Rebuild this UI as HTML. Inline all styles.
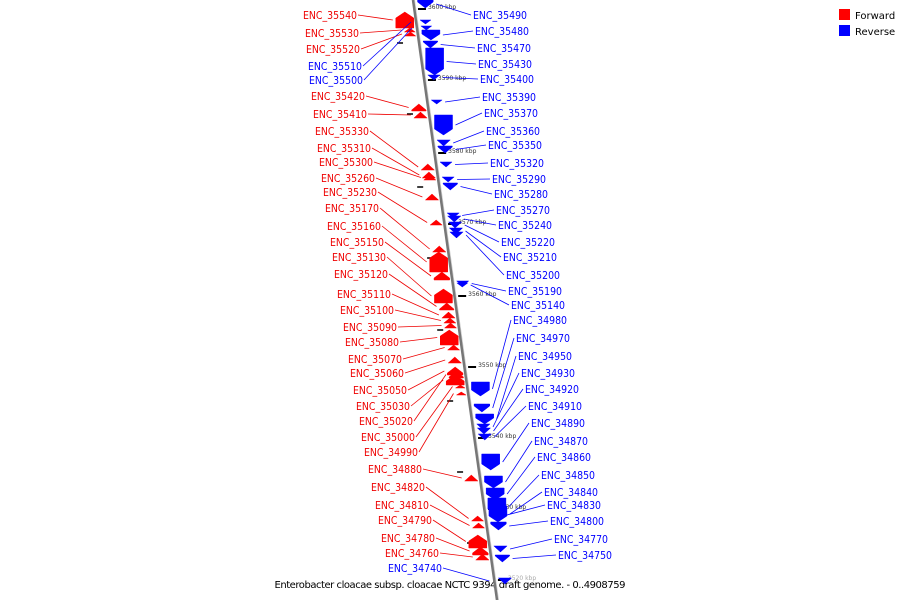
<!DOCTYPE html>
<html><head><meta charset="utf-8"><style>
html,body{margin:0;padding:0;background:#fff;}
svg{display:block;font-family:"DejaVu Sans","Liberation Sans",sans-serif;}
</style></head><body>
<svg id="map" width="900" height="600" viewBox="0 0 900 600" xmlns="http://www.w3.org/2000/svg">
<g id="legend">
<rect x="839" y="9" width="11" height="11" fill="#f00"/>
<text x="855" y="19" font-size="10" fill="#000">Forward</text>
<rect x="839" y="25" width="11" height="11" fill="#00f"/>
<text x="855" y="35" font-size="10" fill="#000">Reverse</text>
</g>
<text x="450" y="588" font-size="10" text-anchor="middle" textLength="351" fill="#000">Enterobacter cloacae subsp. cloacae NCTC 9394 draft genome. - 0..4908759</text>
</svg>
<script>
// Forward genes (left labels)
const fwdNames = ["ENC_35540","ENC_35530","ENC_35520","ENC_35420","ENC_35410","ENC_35330","ENC_35310","ENC_35300","ENC_35260","ENC_35230","ENC_35170","ENC_35160","ENC_35150","ENC_35130","ENC_35120","ENC_35110","ENC_35100","ENC_35090","ENC_35080","ENC_35070","ENC_35060","ENC_35050","ENC_35030","ENC_35020","ENC_35000","ENC_34990","ENC_34880","ENC_34820","ENC_34810","ENC_34790","ENC_34780","ENC_34760"];
const fwdLabelY = [15,33,49,96,114,131,148,162,178,192,208,226,242,257,274,294,310,327,342,359,373,390,406,421,437,452,469,487,505,520,538,553];
const fwdLabelX = [303,305,306,311,313,315,317,319,321,323,325,327,330,332,334,337,340,343,345,348,350,353,356,359,361,364,368,371,375,378,381,385];
const fwdStart = [12,28,32,104,112,164,172,175,194,220,246,252,272,289,303,312,318,323,330,345,357,367,375,371,385,392,475,516,523,535,547,554];
const fwdEnd   = [28,32,36,111,118,170,178,180,200,225,252,272,280,303,310,318,323,328,345,350,363,375,385,378,388,395,481,521,528,548,555,560];
// Reverse genes (right labels)
const revNames = ["ENC_35490","ENC_35480","ENC_35470","ENC_35430","ENC_35400","ENC_35390","ENC_35370","ENC_35360","ENC_35350","ENC_35320","ENC_35290","ENC_35280","ENC_35270","ENC_35240","ENC_35220","ENC_35210","ENC_35200","ENC_35190","ENC_35140","ENC_34980","ENC_34970","ENC_34950","ENC_34930","ENC_34920","ENC_34910","ENC_34890","ENC_34870","ENC_34860","ENC_34850","ENC_34840","ENC_34830","ENC_34800","ENC_34770","ENC_34750"];
const revLabelY = [15,31,48,64,79,97,113,131,145,163,179,194,210,225,242,257,275,291,305,320,338,356,373,389,406,423,441,457,475,492,505,521,539,555];
const revLabelX = [473,475,477,478,480,482,484,486,488,490,492,494,496,498,501,503,506,508,511,513,516,518,521,525,528,531,534,537,541,544,547,550,554,558];
const revStart = [0,30,41,48,75,100,115,140,146,162,177,183,213,216,222,228,232,281,283,382,404,414,424,428,434,454,476,488,498,506,514,522,546,555];
const revEnd   = [8,40,48,75,80,104,135,146,153,167,182,190,218,222,228,234,238,286,287,396,412,424,430,434,440,470,488,500,515,522,518,530,552,562];
// Left side labels coloured blue (reverse genes labelled on left)
const leftRevNames = ["ENC_35510","ENC_35500","ENC_34740"];
const leftRevLabelY = [66,80,568];
const leftRevLabelX = [308,309,388];
const leftRevStart = [20,26,578];
const leftRevEnd = [24,30,584];
// Axis ticks
const tickLabels = ["3600 kbp","3590 kbp","3580 kbp","3570 kbp","3560 kbp","3550 kbp","3540 kbp","3530 kbp","3520 kbp"];
const tickY = [7,78,151,222,294,365,436,507,578];

const NS="http://www.w3.org/2000/svg";
const svg=document.getElementById('map');
function axisX(y){return 413+(497-413)*y/600;}
function mk(tag,attrs,parent){const e=document.createElementNS(NS,tag);for(const k in attrs)e.setAttribute(k,attrs[k]);(parent||svg).appendChild(e);return e;}

const gAxis=mk('g',{});


mk('line',{x1:axisX(0)+1,y1:0,x2:axisX(600)+1,y2:600,stroke:'#ccc','stroke-width':2},gAxis);
mk('line',{x1:axisX(0),y1:0,x2:axisX(600),y2:600,stroke:'#777','stroke-width':2.5},gAxis);

tickLabels.forEach((t,i)=>{
  const y=tickY[i], x=axisX(y);
  const d=mk('line',{x1:x+4,y1:y+2,x2:x+12,y2:y+2,stroke:'#000','stroke-width':2});
  
  
  const tx=mk('text',{x:x+14,y:y+2,'font-size':6,fill:i==8?'#aaa':'#333'});
  tx.textContent=t;
  
  
  // minor dashes on left
  const m=mk('line',{x1:axisX(y+36)-22,y1:y+36,x2:axisX(y+36)-16,y2:y+36,stroke:'#000','stroke-width':1.5});
  
  
});

function gene(y0,y1,fwd,color){
  const h=y1-y0, ym=(y0+y1)/2, w=Math.min(18,6+h*1.2);
  let x0 = fwd ? axisX(ym)-w-2 : axisX(ym)+4;
  const head=Math.min(h,6);
  let pts;
  if(fwd){ // arrow pointing up
    pts=[[x0,y1],[x0,y0+head],[x0+w/2,y0],[x0+w,y0+head],[x0+w,y1]];
  } else { // arrow pointing down
    pts=[[x0,y0],[x0+w,y0],[x0+w,y1-head],[x0+w/2,y1],[x0,y1-head]];
  }
  const p=mk('polygon',{points:pts.map(q=>q.join(',')).join(' '),fill:color,stroke:color,'stroke-width':0.5});
  
  
  return [fwd?x0:x0+w, ym];
}
function label(name,x,y,color,anchorEnd,tgt){
  const t=mk('text',{x:x,y:y+4,'font-size':11,fill:color,textLength:54,lengthAdjust:'spacingAndGlyphs'});
  t.textContent=name;
  
  
  const lx = anchorEnd ? x+55 : x-2;
  const l=mk('line',{x1:lx,y1:y,x2:tgt[0]+(anchorEnd?-3:3),y2:tgt[1],stroke:color,'stroke-width':0.8});
  
  
}
fwdNames.forEach((n,i)=>{const t=gene(fwdStart[i],fwdEnd[i],true,'#f00');label(n,fwdLabelX[i],fwdLabelY[i],'#e00',true,t);});
revNames.forEach((n,i)=>{const t=gene(revStart[i],revEnd[i],false,'#00f');label(n,revLabelX[i],revLabelY[i],'#00f',false,t);});
leftRevNames.forEach((n,i)=>{const ym=(leftRevStart[i]+leftRevEnd[i])/2;const t=gene(leftRevStart[i],leftRevEnd[i],false,'#00f');label(n,leftRevLabelX[i],leftRevLabelY[i],'#00f',true,[axisX(ym)-2,ym]);});
</script>
</body></html>
